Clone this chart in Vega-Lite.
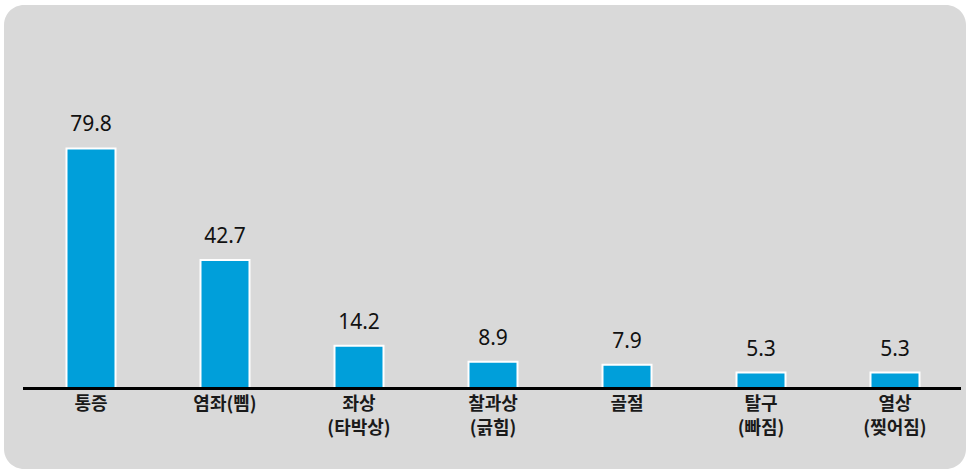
{
  "$schema": "https://vega.github.io/schema/vega-lite/v6.json",
  "width": 967,
  "height": 472,
  "autosize": {"type": "fit", "contains": "padding"},
  "padding": {"left": 4, "top": 5, "right": 1, "bottom": 3},
  "background": "#ffffff",
  "config": {
    "view": {"fill": "#d9d9d9", "stroke": null, "cornerRadius": 20},
    "font": "Noto Sans CJK KR"
  },
  "data": {
    "values": [
      {"cat": "통증", "label": "통증", "value": 79.8},
      {"cat": "염좌(삠)", "label": "염좌(삠)", "value": 42.7},
      {"cat": "좌상(타박상)", "label": "좌상\n(타박상)", "value": 14.2},
      {"cat": "찰과상(긁힘)", "label": "찰과상\n(긁힘)", "value": 8.9},
      {"cat": "골절", "label": "골절", "value": 7.9},
      {"cat": "탈구(빠짐)", "label": "탈구\n(빠짐)", "value": 5.3},
      {"cat": "열상(찢어짐)", "label": "열상\n(찢어짐)", "value": 5.3}
    ]
  },
  "encoding": {
    "x": {
      "field": "cat",
      "type": "nominal",
      "sort": null,
      "axis": null,
      "scale": {"range": [20, 958], "paddingInner": 0, "paddingOuter": 0}
    }
  },
  "layer": [
    {
      "mark": {"type": "bar", "width": 49, "color": "#009fda", "stroke": "#ffffff", "strokeWidth": 2},
      "encoding": {
        "y": {
          "field": "value",
          "type": "quantitative",
          "axis": null,
          "scale": {"domain": [-26.76, 127.5], "nice": false, "zero": false}
        },
        "y2": {"datum": 0}
      }
    },
    {
      "mark": {"type": "rule", "color": "#000000", "strokeWidth": 3},
      "encoding": {
        "x": {"value": 19},
        "x2": {"value": 957},
        "y": {"datum": 0}
      }
    },
    {
      "mark": {"type": "text", "baseline": "alphabetic", "dy": -17, "fontSize": 21, "font": "Noto Sans", "color": "#111111"},
      "encoding": {
        "y": {"field": "value", "type": "quantitative"},
        "text": {"field": "value", "type": "quantitative", "format": ".1f"}
      }
    },
    {
      "mark": {"type": "text", "baseline": "top", "dy": 7, "fontSize": 18, "fontWeight": "bold", "lineBreak": "\n", "lineHeight": 24, "color": "#1a1a1a"},
      "encoding": {
        "y": {"datum": 0},
        "text": {"field": "label"}
      }
    }
  ]
}
